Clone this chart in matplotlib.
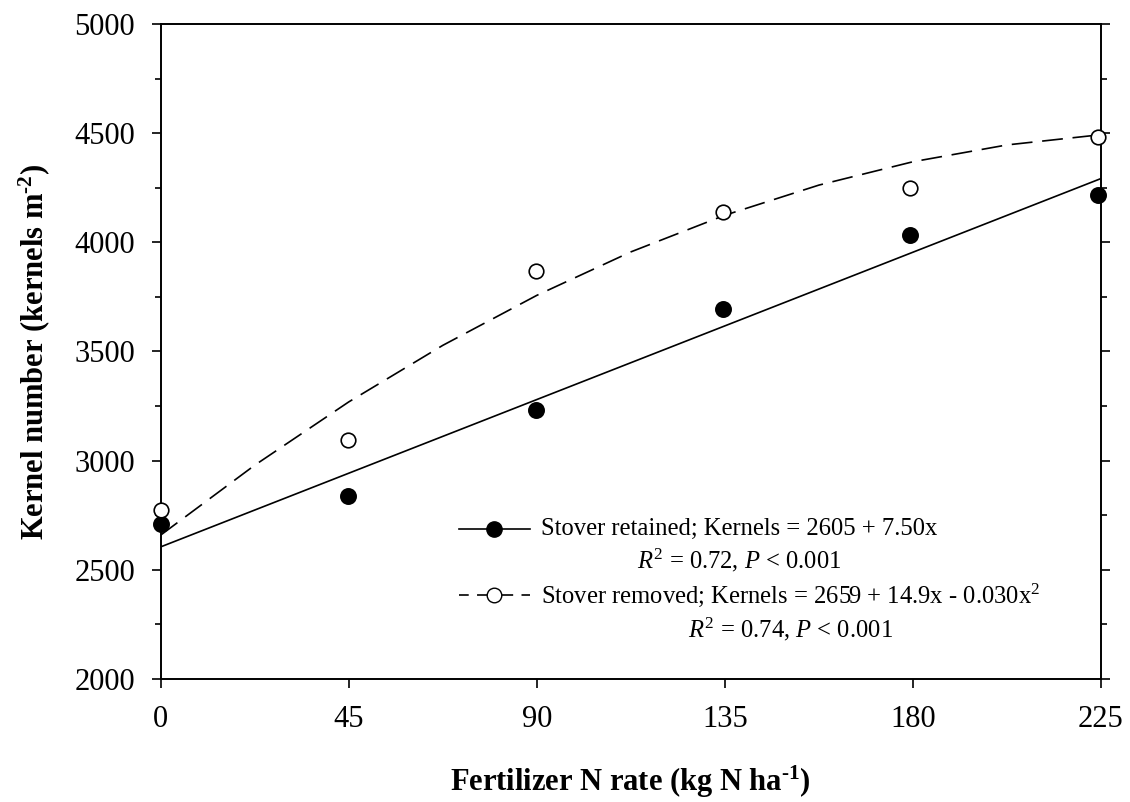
import matplotlib
matplotlib.use("Agg")
import numpy as np
import matplotlib.pyplot as plt
from matplotlib.ticker import MultipleLocator
from matplotlib.legend_handler import HandlerLine2D

plt.rcParams["font.family"] = ["Liberation Serif", "DejaVu Serif"]
plt.rcParams["mathtext.fontset"] = "custom"
plt.rcParams["mathtext.rm"] = "Liberation Serif"
plt.rcParams["mathtext.it"] = "Liberation Serif:italic"
plt.rcParams["mathtext.bf"] = "Liberation Serif:bold"
plt.rcParams["lines.scale_dashes"] = False

# N rates (40 lb/ac steps converted to kg/ha)
n_rate = [0, 44.8, 89.7, 134.5, 179.3, 224.2]
retained = [2708, 2838, 3232, 3695, 4034, 4217]
removed = [2774, 3095, 3868, 4140, 4247, 4482]

# fitted curves
fit_x_lin = [0, 225]
fit_y_lin = [2605, 4292]
fit_x_quad = [0, 22.5, 45, 67.5, 90, 112.5, 135, 157.5, 180, 202.5, 225]
fit_y_quad = [2659, 2979, 3269, 3528, 3757, 3956, 4124, 4262, 4369, 4446, 4493]

x_ticks = [0, 45, 90, 135, 180, 225]
y_ticks = [2000, 2500, 3000, 3500, 4000, 4500, 5000]

lab_ret = "Stover retained; Kernels = 2605 + 7.50x\n$\\mathit{R}^2$ = 0.72, $\\mathit{P}$ < 0.001"
lab_rem = ("Stover removed; Kernels = 2659 + 14.9x - 0.030x$^2$\n"
           "$\\mathit{R}^2$ = 0.74, $\\mathit{P}$ < 0.001")


class FirstLineHandler(HandlerLine2D):
    # put the handle next to the first line of a two-line label
    def create_artists(self, legend, orig_handle, xdescent, ydescent, width, height,
                       fontsize, trans):
        arts = super().create_artists(legend, orig_handle, xdescent, ydescent, width,
                                      height, fontsize, trans)
        for a in arts:
            a.set_ydata(np.asarray(a.get_ydata()) + 12)
        return arts


fig = plt.figure(figsize=(11.3, 8.02), dpi=100)
ax = fig.add_axes([0.1422, 0.1534, 0.8321, 0.8167])

ax.plot(fit_x_lin, fit_y_lin, color="black", lw=1.2, solid_capstyle="butt")
ax.plot(fit_x_quad, fit_y_quad, color="black", lw=1.2, linestyle=(0, (15, 7)))
ax.plot(n_rate, retained, "o", ms=11, mfc="black", mec="black", mew=1.2, clip_on=False, zorder=4)
ax.plot(n_rate, removed, "o", ms=10.5, mfc="white", mec="black", mew=1.2, clip_on=False, zorder=4)

# legend handles
h1, = ax.plot([], [], color="black", lw=1.2, marker="o", ms=11, mfc="black", mec="black")
h2, = ax.plot([], [], color="black", lw=1.2, linestyle=(3, (10, 6)), marker="o", ms=10.5,
              mfc="white", mec="black")
leg = ax.legend([h1, h2], [lab_ret, lab_rem], loc="upper left", bbox_to_anchor=(0.317, 0.246),
                frameon=False, fontsize=17.7, handlelength=2.9, handletextpad=0.45,
                labelspacing=0.3, borderaxespad=0, borderpad=0,
                handler_map={h1: FirstLineHandler(), h2: FirstLineHandler()})
for t in leg.get_texts():
    t.set_multialignment("center")
    t.set_linespacing(1.3)

ax.set_xlim(0, 225)
ax.set_ylim(2000, 5000)
ax.set_xticks(x_ticks)
ax.set_yticks(y_ticks)
ax.yaxis.set_minor_locator(MultipleLocator(250))

for s in ax.spines.values():
    s.set_linewidth(1.4)

ax.tick_params(axis="x", which="major", direction="out", length=6.5, width=1.2,
               labelsize=22, pad=12, top=False)
ax.tick_params(axis="y", which="major", direction="out", length=6.5, width=1.2,
               labelsize=22, pad=12, left=True, right=True)
ax.tick_params(axis="y", which="minor", direction="out", length=4, width=1.2,
               left=True, right=True)

ax.set_xlabel("Fertilizer N rate (kg N ha$^{\\mathbf{\u2010}\\mathbf{1}}$)", fontsize=22,
              fontweight="bold", labelpad=22)
ax.set_ylabel("Kernel number (kernels m$^{\\mathbf{\u2010}\\mathbf{2}}$)", fontsize=22,
              fontweight="bold", labelpad=16)

fig.savefig("out.png", dpi=100)
